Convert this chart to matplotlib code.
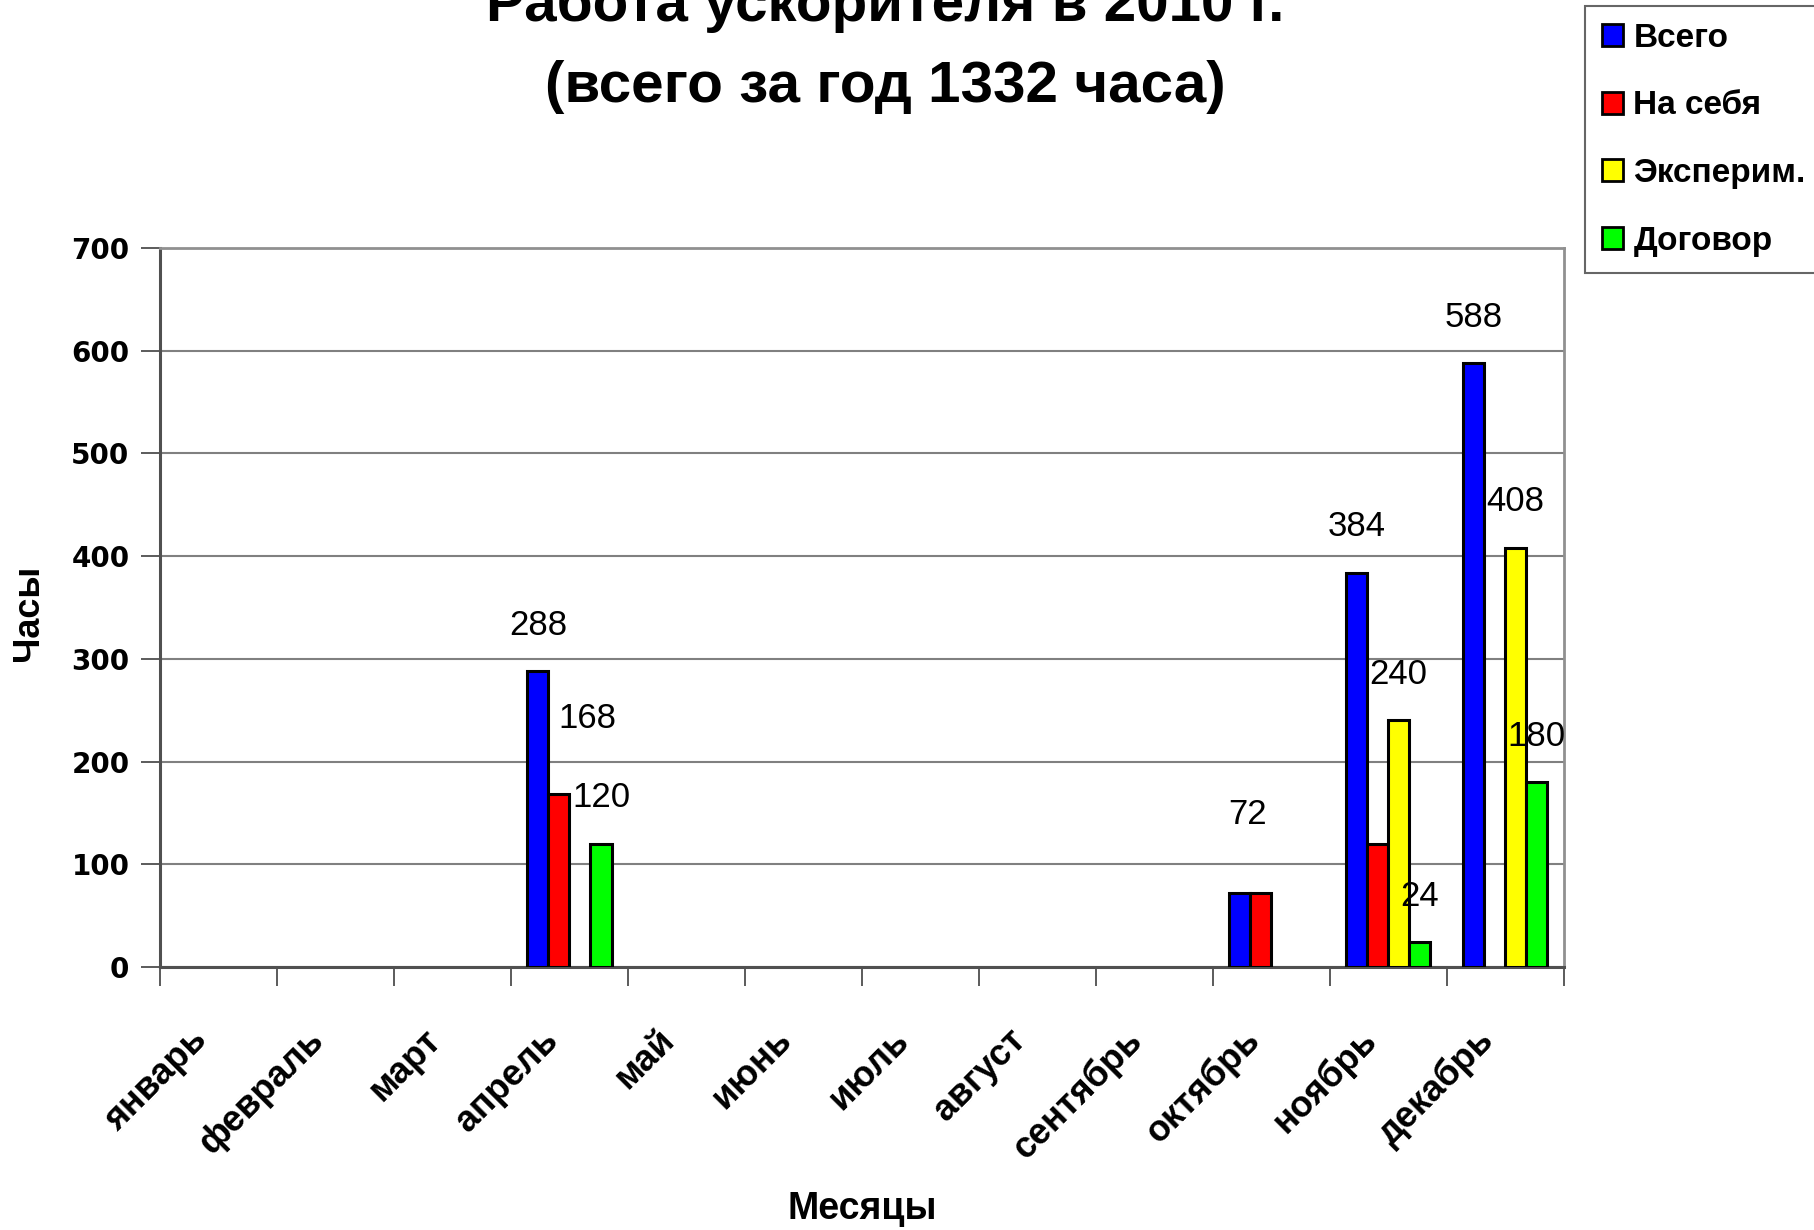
import numpy as np
import matplotlib.pyplot as plt
from matplotlib.patches import Patch

# Monthly accelerator hours, 2010
months = ['январь', 'февраль', 'март', 'апрель', 'май', 'июнь', 'июль',
          'август', 'сентябрь', 'октябрь', 'ноябрь', 'декабрь']
total = [0, 0, 0, 288, 0, 0, 0, 0, 0, 72, 384, 588]
own = [0, 0, 0, 168, 0, 0, 0, 0, 0, 72, 120, 0]
experiment = [0, 0, 0, 0, 0, 0, 0, 0, 0, 0, 240, 408]
contract = [0, 0, 0, 120, 0, 0, 0, 0, 0, 0, 24, 180]
series_names = ['Всего', 'На себя', 'Эксперим.', 'Договор']
colors = ['#0000FF', '#FF0000', '#FFFF00', '#00FF00']

fig = plt.figure(figsize=(18.14, 12.30), dpi=100)
ax = fig.add_axes([0.0882, 0.2138, 0.862 - 0.0882, 0.7984 - 0.2138])

x = np.arange(len(months))
width = 0.18
offsets = [-0.27, -0.09, 0.09, 0.27]
all_series = [total, own, experiment, contract]

bars = []
for vals, off, col in zip(all_series, offsets, colors):
    b = ax.bar(x + 0.5 + off, vals, width, color=col, edgecolor='black',
               linewidth=2.2, zorder=3)
    # empty months get no outline
    for rect, v in zip(b, vals):
        if v == 0:
            rect.set_linewidth(0)
    bars.append(b)

# value labels above the bars (pixel offsets from the bar top)
def label(series, month, dx=0, dy=46):
    rect = bars[series][month]
    ax.annotate(str(all_series[series][month]),
                (rect.get_x() + rect.get_width() / 2, rect.get_height()),
                xytext=(dx, dy), textcoords='offset pixels',
                ha='center', va='center', fontsize=25,
                family='Liberation Sans', zorder=5)

label(0, 3)
label(1, 3, dx=29, dy=76)
label(3, 3)
label(0, 9, dx=8, dy=79)
label(0, 10)
label(2, 10)
label(3, 10)
label(0, 11)
label(2, 11)
label(3, 11)

ax.set_xlim(0, 12)
ax.set_ylim(0, 700)
ax.set_yticks(np.arange(0, 701, 100))
ax.yaxis.grid(True, color='#808080', linewidth=1.5, zorder=0)

# boundaries get tick marks, month names sit a little left of each centre
ax.set_xticks(np.arange(0, 13))
ax.set_xticklabels([])
ax.set_xticks(x + 0.25, minor=True)
ax.set_xticklabels(months, minor=True, rotation=45, ha='right', va='top',
                   rotation_mode='anchor', fontsize=26, fontweight='bold',
                   family='Liberation Sans')
ax.tick_params(axis='x', which='major', direction='out', length=14,
               width=1.2, color='#404040')
ax.tick_params(axis='x', which='minor', length=0, pad=40)
ax.tick_params(axis='y', direction='out', length=14, width=1.2,
               color='#404040', pad=8)
for t in ax.get_yticklabels():
    t.set_fontsize(20)
    t.set_fontweight('bold')
    t.set_family('DejaVu Sans')

for side in ['top', 'right']:
    ax.spines[side].set_color('#909090')
    ax.spines[side].set_linewidth(2)
for side in ['left', 'bottom']:
    ax.spines[side].set_color('#505050')
    ax.spines[side].set_linewidth(2.2)

fig.text(29 / 1814, 1 - 613 / 1230, 'Часы', rotation=90, ha='center',
         va='center', fontsize=26, fontweight='bold', family='Liberation Sans')
fig.text(862 / 1814, 1 - 1209 / 1230, 'Месяцы', ha='center', va='center',
         fontsize=27, fontweight='bold', family='Liberation Sans')

fig.text(885 / 1814, 1 - 6 / 1230, 'Работа ускорителя в 2010 г.',
         ha='center', va='center', fontsize=42, fontweight='bold',
         family='Liberation Sans')
fig.text(885 / 1814, 1 - 87 / 1230, '(всего за год 1332 часа)',
         ha='center', va='center', fontsize=42, fontweight='bold',
         family='Liberation Sans')

handles = [Patch(facecolor=c, edgecolor='black', linewidth=2) for c in colors]
leg = fig.legend(handles, series_names, loc='upper left',
                 bbox_to_anchor=(1585 / 1814, 1 - 6 / 1230),
                 prop={'family': 'Liberation Sans', 'weight': 'bold', 'size': 24},
                 handlelength=0.65, handleheight=0.65, handletextpad=0.3,
                 labelspacing=1.1, borderpad=0.5, borderaxespad=0,
                 fancybox=False, frameon=True)
leg.get_frame().set_edgecolor('#404040')
leg.get_frame().set_linewidth(1.5)

fig.savefig('out.png', dpi=100, facecolor='white')
